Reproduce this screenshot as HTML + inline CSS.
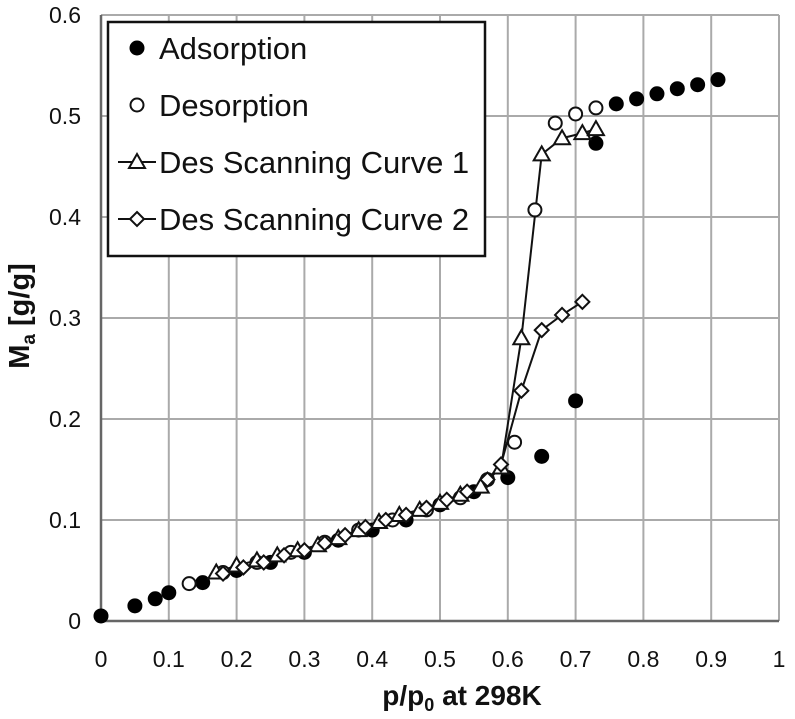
<!DOCTYPE html>
<html><head><meta charset="utf-8"><style>
body{margin:0;background:#fff}
svg text{font-family:"Liberation Sans",sans-serif;fill:#111}
</style></head><body>
<svg id="chart" width="795" height="714"></svg>
<script>
const adsX=[0,0.05,0.08,0.1,0.15,0.2,0.25,0.3,0.35,0.4,0.45,0.5,0.55,0.6,0.65,0.7,0.73,0.76,0.79,0.82,0.85,0.88,0.91];
const adsY=[0.005,0.015,0.022,0.028,0.038,0.05,0.058,0.068,0.08,0.09,0.1,0.115,0.128,0.142,0.163,0.218,0.473,0.512,0.517,0.522,0.527,0.531,0.536];
const desX=[0.13,0.18,0.23,0.28,0.33,0.38,0.43,0.48,0.53,0.57,0.61,0.64,0.67,0.70,0.73];
const desY=[0.037,0.048,0.058,0.068,0.078,0.09,0.1,0.11,0.122,0.14,0.177,0.407,0.493,0.502,0.508];
const sc1X=[0.17,0.2,0.23,0.26,0.29,0.32,0.35,0.38,0.41,0.44,0.47,0.5,0.53,0.56,0.59,0.62,0.65,0.68,0.71,0.73];
const sc1Y=[0.048,0.055,0.06,0.065,0.07,0.075,0.082,0.09,0.098,0.105,0.11,0.117,0.125,0.133,0.152,0.28,0.462,0.478,0.483,0.487];
const sc2X=[0.18,0.21,0.24,0.27,0.3,0.33,0.36,0.39,0.42,0.45,0.48,0.51,0.54,0.57,0.59,0.62,0.65,0.68,0.71];
const sc2Y=[0.047,0.053,0.058,0.065,0.07,0.077,0.085,0.093,0.1,0.105,0.112,0.12,0.128,0.14,0.155,0.228,0.288,0.303,0.316];
const xTicks=["0","0.1","0.2","0.3","0.4","0.5","0.6","0.7","0.8","0.9","1"];
const yTicks=["0","0.1","0.2","0.3","0.4","0.5","0.6"];

const NS="http://www.w3.org/2000/svg";
const svg=document.getElementById('chart');
const X=v=>101+v*678, Y=v=>621-v*(606/0.6);
function mk(t,a,p){const e=document.createElementNS(NS,t);for(const k in a)e.setAttribute(k,a[k]);(p||svg).appendChild(e);return e;}
xTicks.forEach((t,i)=>{const v=i/10;
 const g=mk('line',{x1:X(v),x2:X(v),y1:Y(0),y2:Y(0.6),stroke:'#aaa','stroke-width':2});
 
 
 const tx=mk('text',{x:X(v),y:667,'text-anchor':'middle','font-size':23});tx.textContent=t;
 
 
});
yTicks.forEach((t,i)=>{const v=i/10;
 const g=mk('line',{x1:X(0),x2:X(1),y1:Y(v),y2:Y(v),stroke:'#aaa','stroke-width':2});
 
 
 const tx=mk('text',{x:81,y:Y(v)+8,'text-anchor':'end','font-size':23});tx.textContent=t;
 
 
});
const ax=mk('path',{d:`M${X(0)} ${Y(0.6)}V${Y(0)}H${X(1)}`,stroke:'#666','stroke-width':2.5,fill:'none'});


function line(xs,ys,name){const l=mk('polyline',{points:xs.map((x,i)=>X(x)+','+Y(ys[i])).join(' '),fill:'none',stroke:'#111','stroke-width':2});
 
 }
line(sc1X,sc1Y,'scan1-line');line(sc2X,sc2Y,'scan2-line');
function marker(type,cx,cy,name){let e;
 if(type==='fill')e=mk('circle',{cx,cy,r:7.5,fill:'#000'});
 else if(type==='open')e=mk('circle',{cx,cy,r:6.5,fill:'#fff',stroke:'#111','stroke-width':2});
 else if(type==='tri')e=mk('polygon',{points:`${cx},${cy-8} ${cx+8},${cy+6} ${cx-8},${cy+6}`,fill:'#fff',stroke:'#111','stroke-width':2});
 else e=mk('polygon',{points:`${cx},${cy-7} ${cx+7},${cy} ${cx},${cy+7} ${cx-7},${cy}`,fill:'#fff',stroke:'#111','stroke-width':2});
 
 }
adsX.forEach((x,i)=>marker('fill',X(x),Y(adsY[i]),'adsorption-point'));
desX.forEach((x,i)=>marker('open',X(x),Y(desY[i]),'desorption-point'));
sc1X.forEach((x,i)=>marker('tri',X(x),Y(sc1Y[i]),'scan1-point'));
sc2X.forEach((x,i)=>marker('dia',X(x),Y(sc2Y[i]),'scan2-point'));
const lb=mk('rect',{x:108,y:22,width:377,height:234,fill:'#fff',stroke:'#111','stroke-width':2.5});


const labs=["Adsorption","Desorption","Des Scanning Curve 1","Des Scanning Curve 2"],types=['fill','open','tri','dia'];
labs.forEach((t,i)=>{const cy=48+i*57;
 if(i>=2){const l=mk('line',{x1:118,x2:156,y1:cy,y2:cy,stroke:'#111','stroke-width':2});
  
  }
 marker(types[i],137,cy,'legend-marker');
 const tx=mk('text',{x:159,y:cy+11,'font-size':31});tx.textContent=t;
 
 
});
const xt=mk('text',{x:462,y:705,'text-anchor':'middle','font-size':28,'font-weight':'bold'});
xt.innerHTML='p/p<tspan font-size="18" dy="6">0</tspan><tspan dy="-6"> at 298K</tspan>';


const yt=mk('text',{transform:'translate(29,316) rotate(-90)','text-anchor':'middle','font-size':29,'font-weight':'bold'});
yt.innerHTML='M<tspan font-size="19" dy="6">a</tspan><tspan dy="-6"> [g/g]</tspan>';


</script>
</body></html>
